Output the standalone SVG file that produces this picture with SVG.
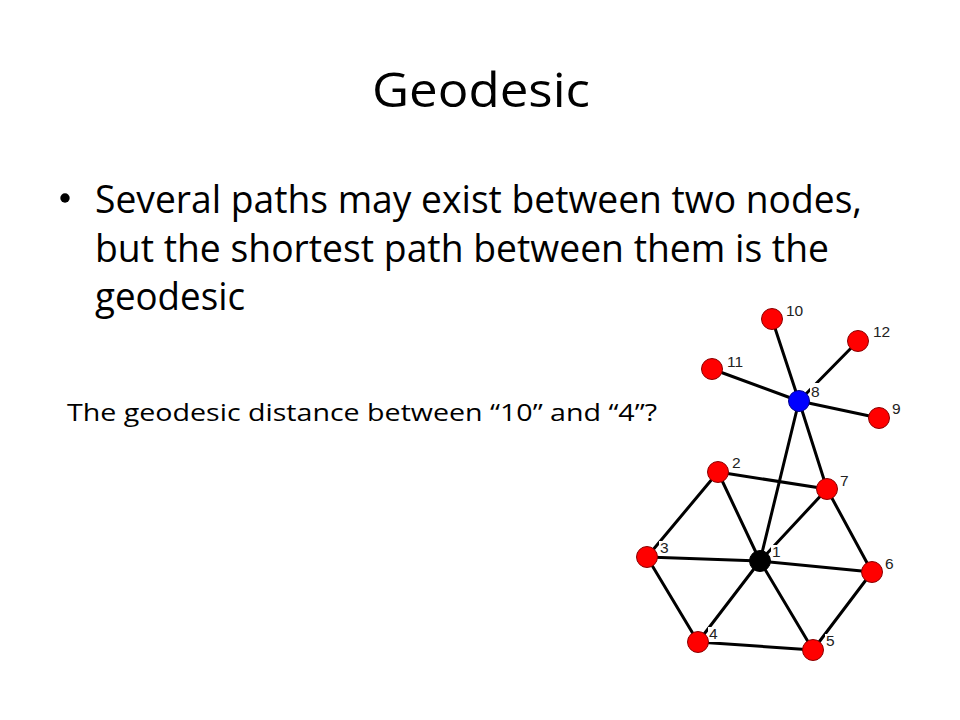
<svg xmlns="http://www.w3.org/2000/svg" width="960" height="720" viewBox="0 0 960 720">
<style>
.txt{font-family:"Open Sans","Liberation Sans",sans-serif;fill:#000}
.edge{stroke:#000;stroke-width:3;stroke-linecap:round}
.red{fill:#ff0000;stroke:#8b0000;stroke-width:1}
.lbl{font-family:"Liberation Sans",Arial,sans-serif;font-size:15.5px;fill:#222}
.bg{fill:#fff}
</style>
<rect width="960" height="720" fill="#fff"/>
<text class="txt" x="481" y="107" font-size="48" text-anchor="middle" textLength="218" lengthAdjust="spacingAndGlyphs">Geodesic</text>
<circle cx="65" cy="198" r="4.7" fill="#000"/>
<text class="txt" x="95" y="213" font-size="38" textLength="767" lengthAdjust="spacingAndGlyphs">Several paths may exist between two nodes,</text>
<text class="txt" x="95" y="262" font-size="38" textLength="734" lengthAdjust="spacingAndGlyphs">but the shortest path between them is the</text>
<text class="txt" x="95" y="310" font-size="38" textLength="150" lengthAdjust="spacingAndGlyphs">geodesic</text>
<text class="txt" x="67" y="421" font-size="23" textLength="590" lengthAdjust="spacingAndGlyphs">The geodesic distance between “10” and “4”?</text>
<g id="connectors">
<line class="edge" x1="799" y1="401" x2="772" y2="319"/>
<line class="edge" x1="799" y1="401" x2="712" y2="369"/>
<line class="edge" x1="799" y1="401" x2="858" y2="341"/>
<line class="edge" x1="799" y1="401" x2="879" y2="418"/>
<line class="edge" x1="799" y1="401" x2="760" y2="561"/>
<line class="edge" x1="799" y1="401" x2="827" y2="489"/>
<line class="edge" x1="718" y1="472" x2="827" y2="489"/>
<line class="edge" x1="718" y1="472" x2="647" y2="557"/>
<line class="edge" x1="718" y1="472" x2="760" y2="561"/>
<line class="edge" x1="827" y1="489" x2="760" y2="561"/>
<line class="edge" x1="827" y1="489" x2="872" y2="572"/>
<line class="edge" x1="647" y1="557" x2="760" y2="561"/>
<line class="edge" x1="647" y1="557" x2="698" y2="642"/>
<line class="edge" x1="760" y1="561" x2="872" y2="572"/>
<line class="edge" x1="760" y1="561" x2="698" y2="642"/>
<line class="edge" x1="760" y1="561" x2="813" y2="650"/>
<line class="edge" x1="698" y1="642" x2="813" y2="650"/>
<line class="edge" x1="872" y1="572" x2="813" y2="650"/>
</g>
<g id="node-10"><circle class="red" cx="772" cy="319" r="10.5"/><text class="lbl" x="786" y="316">10</text></g>
<g id="node-12"><circle class="red" cx="858" cy="341" r="10.5"/><text class="lbl" x="873" y="337">12</text></g>
<g id="node-11"><circle class="red" cx="712" cy="369" r="10.5"/><text class="lbl" x="727" y="367">11</text></g>
<g id="node-8"><rect class="bg" x="810" y="383" width="12" height="16"/><circle cx="799" cy="401" r="10.5" fill="#0000ff" stroke="#00008b" stroke-width="1"/><text class="lbl" x="811" y="397">8</text></g>
<g id="node-9"><circle class="red" cx="879" cy="418" r="10.5"/><text class="lbl" x="892" y="414">9</text></g>
<g id="node-2"><circle class="red" cx="718" cy="472" r="10.5"/><text class="lbl" x="732" y="468">2</text></g>
<g id="node-7"><circle class="red" cx="827" cy="489" r="10.5"/><text class="lbl" x="840" y="486">7</text></g>
<g id="node-3"><rect class="bg" x="659" y="541" width="12" height="15"/><circle class="red" cx="647" cy="557" r="10.5"/><text class="lbl" x="660" y="553">3</text></g>
<g id="node-1"><rect class="bg" x="771" y="545" width="11" height="15"/><circle cx="760" cy="561" r="10.5" fill="#000" stroke="#000" stroke-width="1"/><text class="lbl" x="772" y="557">1</text></g>
<g id="node-6"><circle class="red" cx="872" cy="572" r="10.5"/><text class="lbl" x="885" y="569">6</text></g>
<g id="node-4"><rect class="bg" x="708" y="627" width="12" height="15"/><circle class="red" cx="698" cy="642" r="10.5"/><text class="lbl" x="709" y="639">4</text></g>
<g id="node-5"><rect class="bg" x="825" y="634" width="12" height="15"/><circle class="red" cx="813" cy="650" r="10.5"/><text class="lbl" x="826" y="646">5</text></g>
</svg>
